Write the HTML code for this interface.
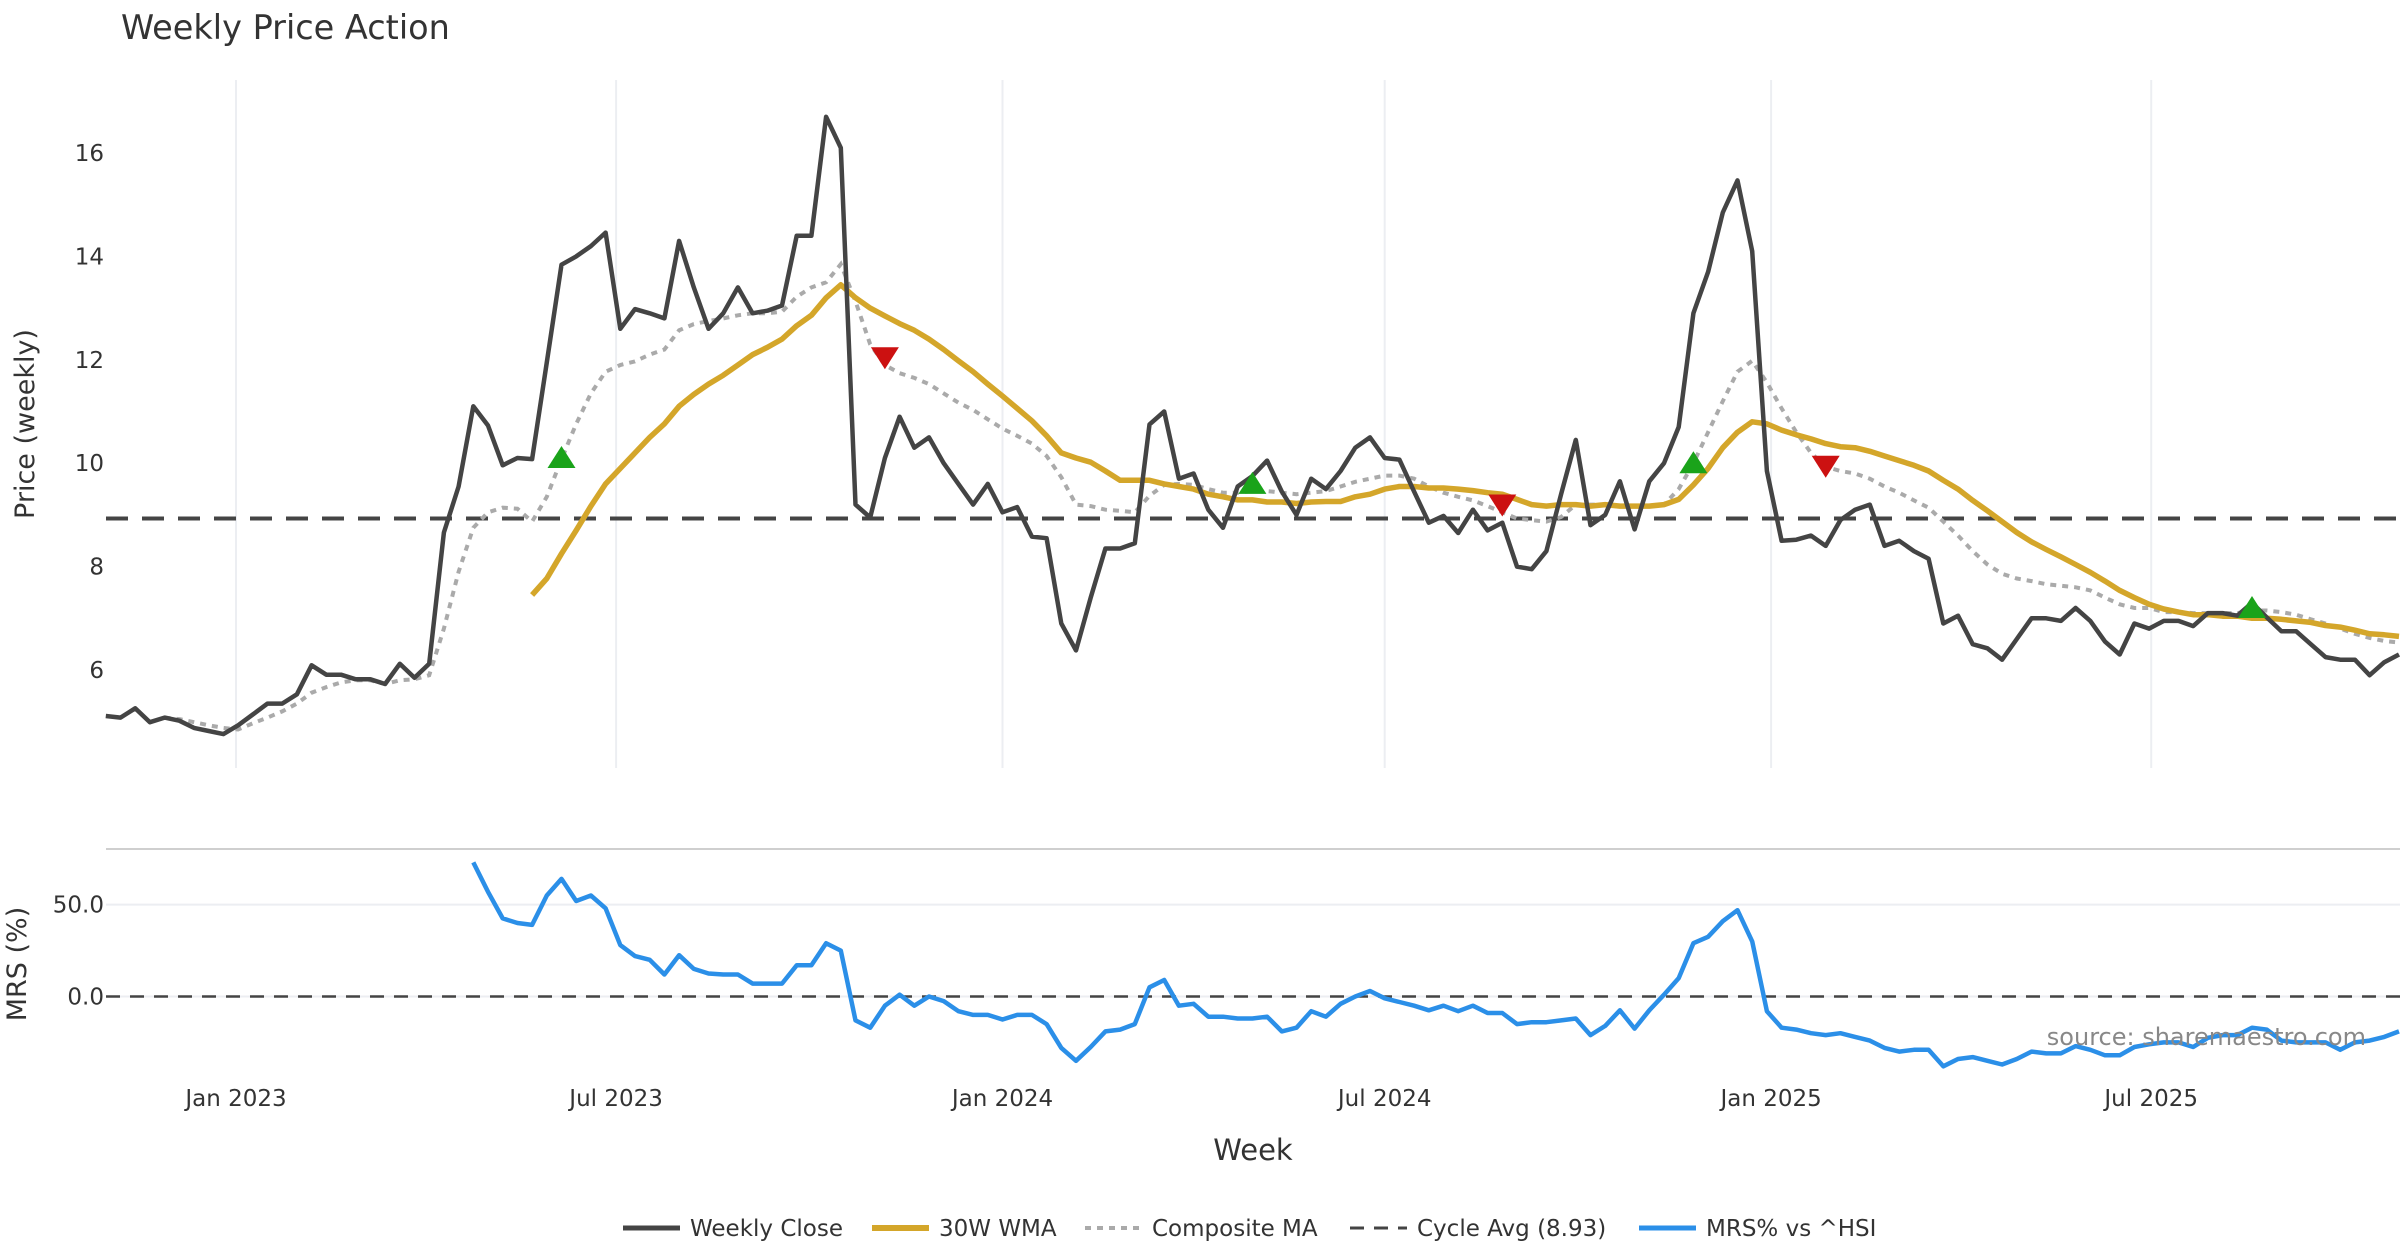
<!DOCTYPE html>
<html><head><meta charset="utf-8"><style>
html,body{margin:0;padding:0;background:#fff;}
svg{display:block;font-family:"DejaVu Sans","Liberation Sans",sans-serif;}
</style></head><body>
<svg id="chart" width="2400" height="1260" viewBox="0 0 2400 1260" xmlns="http://www.w3.org/2000/svg">
<rect width="2400" height="1260" fill="#fff"/>
<text x="121" y="39" font-size="33.5" fill="#333">Weekly Price Action</text>
<g id="grid"></g>
<g id="series"></g>
<text transform="translate(34,424) rotate(-90)" text-anchor="middle" font-size="27" fill="#333">Price (weekly)</text>
<text transform="translate(26,964) rotate(-90)" text-anchor="middle" font-size="27" fill="#333">MRS (%)</text>
<text x="1253" y="1160" text-anchor="middle" font-size="29" fill="#333">Week</text>
<text x="2366" y="1045" text-anchor="end" font-size="24" fill="#888">source: sharemaestro.com</text>
<g id="legend"></g>
</svg>
<script>
const startDate = "2022-10-31";
const closeVals = [5.11,5.08,5.26,4.99,5.08,5.02,4.88,4.82,4.76,4.93,5.14,5.35,5.35,5.53,6.09,5.91,5.91,5.82,5.82,5.73,6.12,5.85,6.12,8.66,9.55,11.1,10.73,9.96,10.1,10.08,11.95,13.84,14.0,14.2,14.46,12.6,12.98,12.9,12.8,14.3,13.4,12.6,12.9,13.4,12.9,12.95,13.05,14.4,14.4,16.7,16.1,9.2,8.95,10.1,10.9,10.3,10.5,10.0,9.6,9.2,9.6,9.05,9.15,8.58,8.55,6.9,6.38,7.4,8.35,8.35,8.45,10.75,11.0,9.7,9.8,9.1,8.75,9.55,9.75,10.05,9.45,9.0,9.7,9.5,9.85,10.3,10.5,10.1,10.07,9.45,8.85,8.98,8.65,9.1,8.7,8.85,8.0,7.95,8.3,9.4,10.45,8.8,9.0,9.65,8.72,9.65,10.0,10.7,12.9,13.7,14.85,15.47,14.1,9.85,8.5,8.52,8.6,8.4,8.9,9.1,9.2,8.4,8.5,8.3,8.15,6.9,7.05,6.5,6.42,6.2,6.6,7.0,7.0,6.95,7.2,6.95,6.55,6.3,6.9,6.8,6.95,6.95,6.85,7.1,7.1,7.05,7.3,7.02,6.75,6.75,6.5,6.25,6.2,6.2,5.9,6.15,6.3];
const wmaVals = [7.45,7.77,8.25,8.7,9.17,9.6,9.9,10.2,10.5,10.76,11.1,11.33,11.53,11.7,11.9,12.1,12.24,12.4,12.66,12.86,13.2,13.45,13.2,13.0,12.85,12.7,12.57,12.4,12.2,11.98,11.77,11.53,11.3,11.06,10.82,10.53,10.2,10.1,10.02,9.85,9.67,9.67,9.67,9.6,9.55,9.5,9.4,9.35,9.29,9.29,9.25,9.25,9.22,9.25,9.26,9.26,9.35,9.4,9.5,9.55,9.55,9.52,9.52,9.5,9.47,9.43,9.4,9.3,9.2,9.17,9.2,9.2,9.17,9.2,9.17,9.17,9.17,9.2,9.3,9.58,9.9,10.3,10.6,10.8,10.76,10.64,10.55,10.47,10.38,10.32,10.3,10.23,10.14,10.05,9.96,9.85,9.67,9.5,9.28,9.08,8.87,8.66,8.48,8.33,8.19,8.04,7.89,7.72,7.54,7.4,7.27,7.18,7.12,7.07,7.07,7.04,7.04,7.0,7.0,6.98,6.95,6.92,6.86,6.83,6.77,6.7,6.68,6.65];
const compVals = [5.08,5.05,4.99,4.93,4.88,4.85,4.97,5.08,5.2,5.35,5.56,5.67,5.76,5.8,5.8,5.73,5.8,5.82,5.9,6.8,7.9,8.75,9.05,9.14,9.12,8.87,9.35,10.08,10.76,11.35,11.77,11.9,11.97,12.1,12.2,12.57,12.69,12.75,12.8,12.86,12.9,12.9,12.93,13.22,13.4,13.5,13.85,13.13,12.3,11.9,11.74,11.65,11.53,11.35,11.17,11.03,10.85,10.67,10.53,10.38,10.14,9.73,9.2,9.17,9.1,9.08,9.05,9.37,9.58,9.6,9.58,9.5,9.43,9.43,9.46,9.46,9.43,9.4,9.43,9.46,9.55,9.64,9.7,9.76,9.76,9.7,9.55,9.43,9.35,9.28,9.17,9.05,8.93,8.9,8.87,8.96,9.2,9.2,9.2,9.17,9.17,9.17,9.2,9.5,10.0,10.6,11.2,11.77,11.98,11.56,11.06,10.6,10.2,9.93,9.85,9.8,9.7,9.55,9.43,9.28,9.14,8.87,8.6,8.3,8.04,7.86,7.77,7.72,7.66,7.63,7.6,7.54,7.4,7.27,7.2,7.2,7.12,7.12,7.1,7.1,7.1,7.1,7.15,7.15,7.12,7.07,6.98,6.9,6.8,6.7,6.62,6.56,6.53];
const mrsVals = [73,57,42.5,40,39,55,64,52,55,48,28,22,20,12,22.5,15,12.5,12,12,7,7,7,17,17,29,25,-13,-17,-5,1,-5,0,-2.5,-8,-10,-10,-12.5,-10,-10,-15,-28,-35,-27.5,-19,-18,-15,5,9,-5,-4,-11,-11,-12,-12,-11,-19,-17,-8,-11,-4,0,3,-1,-3,-5,-7.5,-5,-8,-5,-9,-9,-15,-14,-14,-13,-12,-21,-16,-7.5,-17.5,-7.5,1,10,29,32.5,41,47,30,-8,-17,-18,-20,-21,-20,-22,-24,-28,-30,-29,-29,-38,-34,-33,-35,-37,-34,-30,-31,-31,-27,-29,-32,-32,-27.5,-26,-25,-25,-27.5,-22.5,-21,-21,-17,-18,-24,-25,-25,-25,-29,-25,-24,-22,-19];
const cycleAvg = 8.93;
const buyIdx = [31,78,108,146];
const buyVals = [10.1,9.6,10.0,7.2];
const sellIdx = [53,95,117];
const sellVals = [12.05,9.2,9.95];
const priceTicks = [6,8,10,12,14,16];
const mrsTicks = [0,50];
const dateTicks = ["2023-01-01","2023-07-01","2024-01-01","2024-07-01","2025-01-01","2025-07-01"];
const dateTickLabels = ["Jan 2023","Jul 2023","Jan 2024","Jul 2024","Jan 2025","Jul 2025"];

const NS="http://www.w3.org/2000/svg";
const DAY=86400000, REF=Date.UTC(2023,0,1);
function xDate(d){const t=new Date(d+"T00:00:00Z").getTime();return 236+(t-REF)/DAY*2.1;}
const start=new Date(startDate+"T00:00:00Z").getTime();
function xIdx(i){return 236+((start+i*7*DAY)-REF)/DAY*2.1;}
function yP(v){return 153+(16-v)*51.7;}
function yM(v){return 996.5-v*1.837;}
function mk(tag,attrs,parent){const e=document.createElementNS(NS,tag);for(const k in attrs)e.setAttribute(k,attrs[k]);parent.appendChild(e);return e;}
const grid=document.getElementById('grid'), ser=document.getElementById('series'), leg=document.getElementById('legend');

dateTicks.forEach((d,k)=>{
  const x=xDate(d);
  const gl=mk('line',{x1:x,x2:x,y1:80,y2:768,stroke:'#eceef2','stroke-width':2},grid);
  
  
  const t=mk('text',{x:x,y:1106,'text-anchor':'middle','font-size':23,fill:'#333'},grid);
  t.textContent=dateTickLabels[k];
  
  
});
priceTicks.forEach(v=>{
  const t=mk('text',{x:104,y:yP(v)+8,'text-anchor':'end','font-size':23,fill:'#333'},grid);
  t.textContent=v;
  
  
});
const sep=mk('line',{x1:106,x2:2400,y1:849,y2:849,stroke:'#cfcfcf','stroke-width':2},grid);


mrsTicks.forEach(v=>{
  const y=yM(v);
  const gl=mk('line',{x1:106,x2:2400,y1:y,y2:y,stroke:'#eceef2','stroke-width':2},grid);
  
  
  const t=mk('text',{x:104,y:y+8,'text-anchor':'end','font-size':23,fill:'#333'},grid);
  t.textContent=v.toFixed(1);
  
  
});
const z=mk('line',{x1:106,x2:2400,y1:yM(0),y2:yM(0),stroke:'#444','stroke-width':2.5,'stroke-dasharray':'14 10'},grid);


const cyc=mk('line',{x1:106,x2:2400,y1:yP(cycleAvg),y2:yP(cycleAvg),stroke:'#444','stroke-width':4,'stroke-dasharray':'22 14'},ser);



function pathFrom(vals,yf){
  const off=closeVals.length-vals.length;let d='';
  vals.forEach((v,k)=>{if(v==null)return;d+=(d?'L':'M')+xIdx(k+off).toFixed(1)+','+yf(v).toFixed(1);});
  return d;
}
const comp=mk('path',{d:pathFrom(compVals,yP),fill:'none',stroke:'#aaa','stroke-width':4,'stroke-dasharray':'6 6'},ser);


const wma=mk('path',{d:pathFrom(wmaVals,yP),fill:'none',stroke:'#d4a62a','stroke-width':5.5,'stroke-linejoin':'round'},ser);


const cl=mk('path',{d:pathFrom(closeVals,yP),fill:'none',stroke:'#444','stroke-width':4.5,'stroke-linejoin':'round'},ser);


const mrs=mk('path',{d:pathFrom(mrsVals,yM),fill:'none',stroke:'#2b8fe8','stroke-width':4.5,'stroke-linejoin':'round'},ser);


buyIdx.forEach((i,k)=>{
  const x=xIdx(i),y=yP(buyVals[k]);
  const p=mk('polygon',{points:`${x-14},${y+10} ${x+14},${y+10} ${x},${y-12}`,fill:'#1aa31a'},ser);
  
  
});
sellIdx.forEach((i,k)=>{
  const x=xIdx(i),y=yP(sellVals[k]);
  const p=mk('polygon',{points:`${x-14},${y-10} ${x+14},${y-10} ${x},${y+12}`,fill:'#cc1111'},ser);
  
  
});
const legItems=[
 {x:623,label:'Weekly Close',stroke:'#444',dash:'',w:5,name:'legend-weekly-close'},
 {x:872,label:'30W WMA',stroke:'#d4a62a',dash:'',w:6,name:'legend-30w-wma'},
 {x:1085,label:'Composite MA',stroke:'#aaa',dash:'6 6',w:4,name:'legend-composite-ma'},
 {x:1350,label:'Cycle Avg (8.93)',stroke:'#444',dash:'14 10',w:3,name:'legend-cycle-avg'},
 {x:1639,label:'MRS% vs ^HSI',stroke:'#2b8fe8',dash:'',w:5,name:'legend-mrs'}];
legItems.forEach(it=>{
  const g=mk('g',{},leg);
  
  
  const a={x1:it.x,x2:it.x+57,y1:1228,y2:1228,stroke:it.stroke,'stroke-width':it.w};
  if(it.dash)a['stroke-dasharray']=it.dash;
  mk('line',a,g);
  const t=mk('text',{x:it.x+67,y:1236,'font-size':23,fill:'#333'},g);
  t.textContent=it.label;
});
</script>
</body></html>
